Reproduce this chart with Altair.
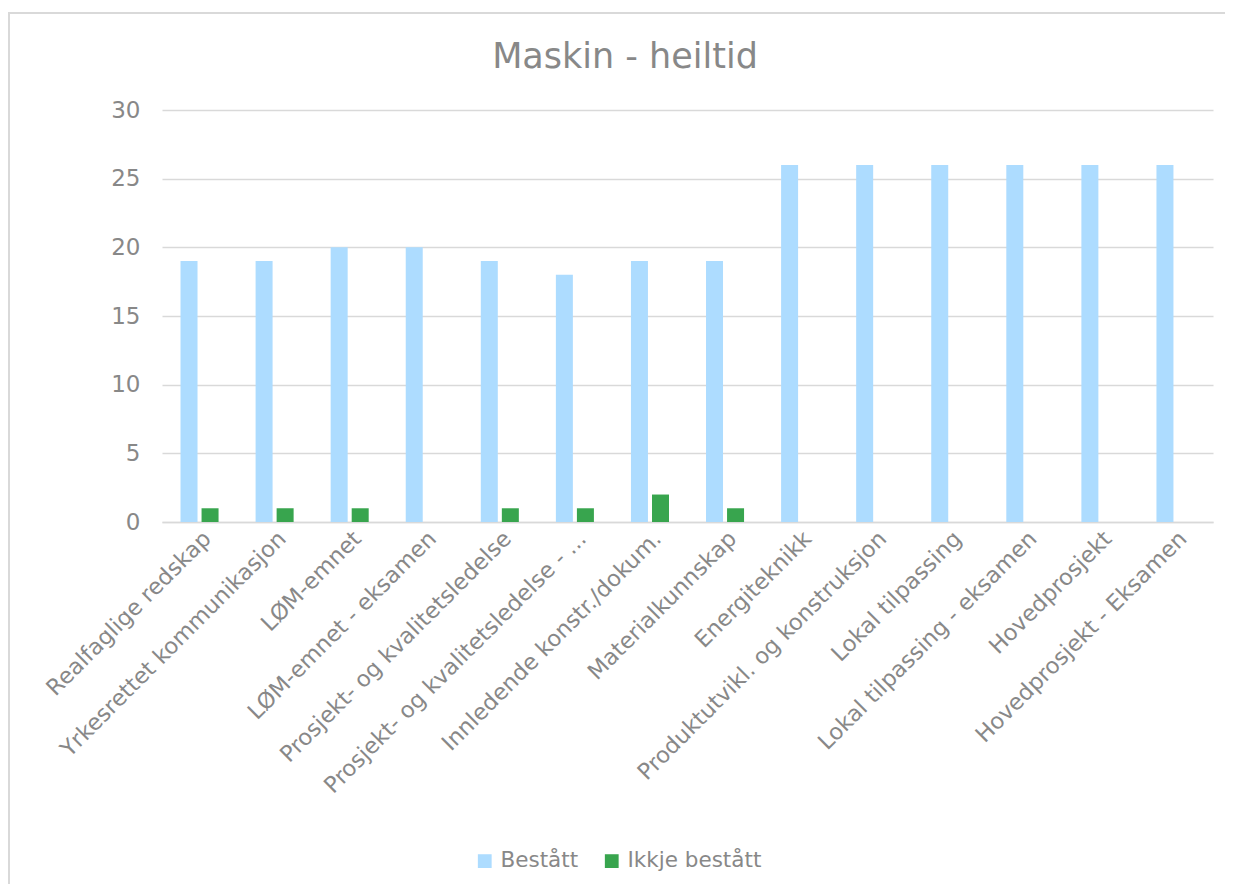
import altair as alt
import pandas as pd

categories = [
    "Realfaglige redskap",
    "Yrkesrettet kommunikasjon",
    "LØM-emnet",
    "LØM-emnet - eksamen",
    "Prosjekt- og kvalitetsledelse",
    "Prosjekt- og kvalitetsledelse - ...",
    "Innledende konstr./dokum.",
    "Materialkunnskap",
    "Energiteknikk",
    "Produktutvikl. og konstruksjon",
    "Lokal tilpassing",
    "Lokal tilpassing - eksamen",
    "Hovedprosjekt",
    "Hovedprosjekt - Eksamen",
]
bestatt = [19, 19, 20, 20, 19, 18, 19, 19, 26, 26, 26, 26, 26, 26]
ikkje_bestatt = [1, 1, 1, 0, 1, 1, 2, 1, 0, 0, 0, 0, 0, 0]
series = ["Bestått", "Ikkje bestått"]
colors = ["#ADDCFF", "#38A54E"]
title_text = ["Maskin - heiltid"]

rows = []
for c, b, i in zip(categories, bestatt, ikkje_bestatt):
    rows.append({"Emne": c, "Serie": series[0], "Antal": b})
    rows.append({"Emne": c, "Serie": series[1], "Antal": i})
df = pd.DataFrame(rows)

FONT = "DejaVu Sans"
GRAY = "#888888"

bars = alt.Chart(df).mark_bar(size=17).encode(
    x=alt.X(
        "Emne:N",
        sort=categories,
        scale=alt.Scale(paddingInner=0, paddingOuter=0),
        axis=alt.Axis(
            title=None,
            labelAngle=-45,
            labelAlign="right",
            labelBaseline="top",
            labelFontSize=22.5,
            labelColor=GRAY,
            labelFont=FONT,
            labelLimit=500,
            labelPadding=5,
            ticks=False,
            domainColor="#d9d9d9",
            domainWidth=1.5,
            grid=False,
        ),
    ),
    xOffset=alt.XOffset(
        "Serie:N",
        sort=series,
        scale=alt.Scale(paddingInner=0.19, paddingOuter=0.88),
    ),
    y=alt.Y(
        "Antal:Q",
        scale=alt.Scale(domain=[0, 30]),
        axis=alt.Axis(
            title=None,
            values=[0, 5, 10, 15, 20, 25, 30],
            labelFontSize=23,
            labelColor=GRAY,
            labelFont=FONT,
            labelPadding=22,
            ticks=False,
            domain=False,
            gridColor="#d9d9d9",
            gridWidth=1.5,
        ),
    ),
    color=alt.Color(
        "Serie:N",
        sort=series,
        scale=alt.Scale(domain=series, range=colors),
        legend=alt.Legend(
            title=None,
            orient="none",
            legendX=312,
            legendY=740,
            direction="horizontal",
            symbolType="square",
            symbolSize=190,
            symbolStrokeWidth=0,
            labelFontSize=21.5,
            labelColor=GRAY,
            labelFont=FONT,
            columnPadding=22,
            labelOffset=5,
        ),
    ),
)

title = alt.Chart(pd.DataFrame({"t": title_text})).mark_text(
    font=FONT, fontSize=35, color=GRAY, align="center", baseline="middle"
).encode(
    text="t:N",
    x=alt.value(463),
    y=alt.value(-53),
)

border = alt.Chart(pd.DataFrame({"k": [0]})).mark_rect(
    fill=None, stroke="#d9d9d9", strokeWidth=2
).encode(
    x=alt.value(-153),
    x2=alt.value(1300),
    y=alt.value(-97),
    y2=alt.value(900),
)

chart = alt.layer(border, title, bars).properties(
    width=1051,
    height=412,
    autosize=alt.AutoSizeParams(type="none"),
    padding={"left": 154, "top": 102, "right": 12, "bottom": 362},
).configure_view(stroke=None)

chart.save("out.html", embed_options={"renderer": "svg", "actions": False})
